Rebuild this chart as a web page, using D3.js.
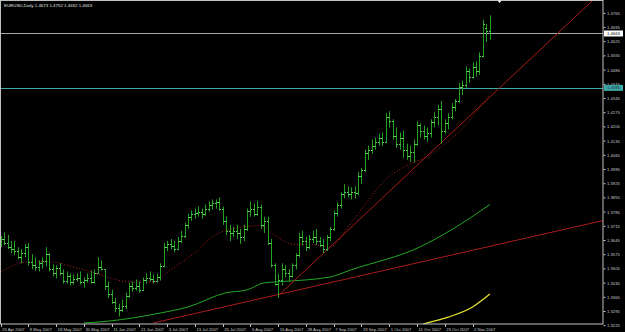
<!DOCTYPE html>
<html>
<head>
<meta charset="utf-8">
<script src="https://cdn.jsdelivr.net/npm/d3@7.9.0/dist/d3.min.js"></script>
<style>
  html, body { margin: 0; padding: 0; background: #000; }
  svg { display: block; }
  text { font-family: "Liberation Sans", Arial, sans-serif; }
</style>
</head>
<body>
<div id="chart"></div>
<script>
// EURUSD daily bars, 26 Apr 2007 .. 9 Nov 2007 (weekdays)
const startDate = '2007-04-26';
const endDate = '2007-11-09';

const opens = [
  1.3640, 1.3650, 1.3630, 1.3610, 1.3600, 1.3590, 1.3560, 1.3580, 1.3610, 1.3535,
  1.3520, 1.3510, 1.3530, 1.3540, 1.3575, 1.3500, 1.3480, 1.3505, 1.3480, 1.3445,
  1.3470, 1.3440, 1.3455, 1.3460, 1.3440, 1.3450, 1.3460, 1.3440, 1.3480, 1.3510,
  1.3500, 1.3420, 1.3380, 1.3340, 1.3310, 1.3300, 1.3320, 1.3370, 1.3420, 1.3410,
  1.3420, 1.3400, 1.3450, 1.3460, 1.3455, 1.3445, 1.3465, 1.3515, 1.3610, 1.3625,
  1.3615, 1.3600, 1.3640, 1.3665, 1.3720, 1.3760, 1.3775, 1.3780, 1.3785, 1.3775,
  1.3800, 1.3820, 1.3825, 1.3830, 1.3800, 1.3740, 1.3690, 1.3680, 1.3690, 1.3680,
  1.3660, 1.3700, 1.3790, 1.3800, 1.3775, 1.3810, 1.3720, 1.3740, 1.3630, 1.3520,
  1.3430, 1.3450, 1.3500, 1.3480, 1.3470, 1.3520, 1.3570, 1.3660, 1.3640, 1.3610,
  1.3650, 1.3660, 1.3640, 1.3620, 1.3600, 1.3660, 1.3700, 1.3780, 1.3820, 1.3870,
  1.3880, 1.3870, 1.3880, 1.3875, 1.3960, 1.3990, 1.4075, 1.4090, 1.4110, 1.4130,
  1.4150, 1.4130, 1.4250, 1.4230, 1.4160, 1.4120, 1.4150, 1.4090, 1.4060, 1.4080,
  1.4120, 1.4210, 1.4180, 1.4160, 1.4170, 1.4225, 1.4250, 1.4290, 1.4180, 1.4220,
  1.4250, 1.4300, 1.4330, 1.4400, 1.4410, 1.4480, 1.4450, 1.4500, 1.4480, 1.4550,
  1.4690, 1.4673
];
const highs = [
  1.3665, 1.3682, 1.3670, 1.3640, 1.3640, 1.3610, 1.3600, 1.3625, 1.3630, 1.3575,
  1.3560, 1.3545, 1.3560, 1.3610, 1.3580, 1.3525, 1.3520, 1.3530, 1.3500, 1.3490,
  1.3480, 1.3475, 1.3480, 1.3490, 1.3460, 1.3480, 1.3495, 1.3500, 1.3560, 1.3545,
  1.3500, 1.3440, 1.3400, 1.3360, 1.3330, 1.3350, 1.3385, 1.3435, 1.3440, 1.3450,
  1.3440, 1.3460, 1.3480, 1.3490, 1.3475, 1.3480, 1.3530, 1.3630, 1.3640, 1.3650,
  1.3640, 1.3660, 1.3690, 1.3730, 1.3775, 1.3790, 1.3800, 1.3810, 1.3800, 1.3820,
  1.3835, 1.3845, 1.3845, 1.3855, 1.3810, 1.3760, 1.3720, 1.3710, 1.3720, 1.3700,
  1.3720, 1.3800, 1.3835, 1.3825, 1.3840, 1.3820, 1.3760, 1.3760, 1.3650, 1.3530,
  1.3480, 1.3530, 1.3520, 1.3500, 1.3530, 1.3580, 1.3680, 1.3690, 1.3660, 1.3670,
  1.3690, 1.3700, 1.3660, 1.3650, 1.3670, 1.3710, 1.3790, 1.3830, 1.3880, 1.3920,
  1.3910, 1.3905, 1.3910, 1.3980, 1.4000, 1.4090, 1.4110, 1.4140, 1.4150, 1.4170,
  1.4175, 1.4270, 1.4280, 1.4240, 1.4200, 1.4175, 1.4185, 1.4120, 1.4110, 1.4140,
  1.4230, 1.4220, 1.4210, 1.4200, 1.4240, 1.4275, 1.4310, 1.4330, 1.4240, 1.4270,
  1.4320, 1.4340, 1.4420, 1.4430, 1.4500, 1.4490, 1.4520, 1.4525, 1.4570, 1.4730,
  1.4710, 1.4752
];
const lows = [
  1.3610, 1.3620, 1.3600, 1.3580, 1.3570, 1.3550, 1.3530, 1.3560, 1.3520, 1.3500,
  1.3495, 1.3490, 1.3505, 1.3515, 1.3490, 1.3465, 1.3455, 1.3470, 1.3430, 1.3430,
  1.3420, 1.3425, 1.3440, 1.3425, 1.3410, 1.3435, 1.3430, 1.3430, 1.3480, 1.3495,
  1.3400, 1.3360, 1.3330, 1.3290, 1.3268, 1.3290, 1.3305, 1.3360, 1.3390, 1.3395,
  1.3385, 1.3395, 1.3430, 1.3440, 1.3430, 1.3435, 1.3445, 1.3510, 1.3590, 1.3600,
  1.3585, 1.3595, 1.3630, 1.3655, 1.3700, 1.3740, 1.3750, 1.3760, 1.3750, 1.3765,
  1.3785, 1.3795, 1.3800, 1.3790, 1.3720, 1.3670, 1.3640, 1.3660, 1.3650, 1.3625,
  1.3640, 1.3690, 1.3760, 1.3760, 1.3765, 1.3700, 1.3680, 1.3620, 1.3510, 1.3420,
  1.3360, 1.3420, 1.3460, 1.3440, 1.3460, 1.3500, 1.3560, 1.3620, 1.3590, 1.3600,
  1.3630, 1.3620, 1.3610, 1.3580, 1.3590, 1.3640, 1.3690, 1.3760, 1.3800, 1.3850,
  1.3855, 1.3845, 1.3850, 1.3865, 1.3920, 1.3980, 1.4040, 1.4070, 1.4090, 1.4110,
  1.4110, 1.4125, 1.4200, 1.4140, 1.4100, 1.4090, 1.4050, 1.4040, 1.4030, 1.4027,
  1.4110, 1.4150, 1.4140, 1.4130, 1.4150, 1.4200, 1.4210, 1.4120, 1.4170, 1.4190,
  1.4240, 1.4280, 1.4320, 1.4360, 1.4395, 1.4420, 1.4440, 1.4450, 1.4460, 1.4545,
  1.4620, 1.4632
];
const closes = [
  1.3650, 1.3630, 1.3610, 1.3600, 1.3590, 1.3560, 1.3580, 1.3610, 1.3535, 1.3520,
  1.3510, 1.3530, 1.3540, 1.3575, 1.3500, 1.3480, 1.3505, 1.3480, 1.3445, 1.3470,
  1.3440, 1.3455, 1.3460, 1.3440, 1.3450, 1.3460, 1.3440, 1.3480, 1.3510, 1.3500,
  1.3420, 1.3380, 1.3340, 1.3310, 1.3300, 1.3320, 1.3370, 1.3420, 1.3410, 1.3420,
  1.3400, 1.3450, 1.3460, 1.3455, 1.3445, 1.3465, 1.3515, 1.3610, 1.3625, 1.3615,
  1.3600, 1.3640, 1.3665, 1.3720, 1.3760, 1.3775, 1.3780, 1.3785, 1.3775, 1.3800,
  1.3820, 1.3825, 1.3830, 1.3800, 1.3740, 1.3690, 1.3680, 1.3690, 1.3680, 1.3660,
  1.3700, 1.3790, 1.3800, 1.3775, 1.3810, 1.3720, 1.3740, 1.3630, 1.3520, 1.3430,
  1.3450, 1.3500, 1.3480, 1.3470, 1.3520, 1.3570, 1.3660, 1.3640, 1.3610, 1.3650,
  1.3660, 1.3640, 1.3620, 1.3600, 1.3660, 1.3700, 1.3780, 1.3820, 1.3870, 1.3880,
  1.3870, 1.3880, 1.3875, 1.3960, 1.3990, 1.4075, 1.4090, 1.4110, 1.4130, 1.4150,
  1.4130, 1.4250, 1.4230, 1.4160, 1.4120, 1.4150, 1.4090, 1.4060, 1.4080, 1.4120,
  1.4210, 1.4180, 1.4160, 1.4170, 1.4225, 1.4250, 1.4290, 1.4180, 1.4220, 1.4250,
  1.4300, 1.4330, 1.4400, 1.4410, 1.4480, 1.4450, 1.4500, 1.4480, 1.4550, 1.4710,
  1.4673, 1.4663
];

// indicator lines, [bar index, price]
const maFast = [
  [0, 1.3488], [8, 1.3537], [14, 1.3537], [24, 1.3498], [38, 1.3438], [44, 1.3438],
  [49, 1.3498], [57, 1.3597], [61, 1.3661], [66, 1.3696], [75, 1.3716], [78, 1.3681],
  [85, 1.3622], [90, 1.3622], [95, 1.3612], [101, 1.3730], [112, 1.3958], [116, 1.4003],
  [123, 1.4057], [128, 1.4117], [132, 1.4176], [141, 1.4364]
];
const maSlow = [
  [24, 1.3236], [31, 1.3245], [46, 1.3285], [54, 1.3315], [65, 1.3385], [71, 1.3399],
  [76, 1.3434], [80, 1.3439], [95, 1.3463], [101, 1.3498], [121, 1.3612], [130, 1.3696],
  [141, 1.3820]
];
const maLong = [
  [115, 1.3191], [123, 1.3236], [129, 1.3265], [136, 1.3315], [141, 1.3379]
];

// trend lines (rays) and horizontal levels
const steepTrend = [[80, 1.3370], [141, 1.4350]];
const shallowTrend = [[44, 1.3236], [111, 1.3497]];
const bidPrice = 1.4663;
const levelPrice = 1.4395;

const xTickDates = ['2007-04-26', '2007-05-08', '2007-05-18', '2007-05-30', '2007-06-11',
  '2007-06-21', '2007-07-03', '2007-07-13', '2007-07-25', '2007-08-06', '2007-08-16',
  '2007-08-28', '2007-09-07', '2007-09-19', '2007-10-01', '2007-10-11', '2007-10-23',
  '2007-11-02'];
const yTicks = [1.4765, 1.4695, 1.4625, 1.4555, 1.4485, 1.4415, 1.4345, 1.4275, 1.4205,
  1.4135, 1.4065, 1.3995, 1.3925, 1.3855, 1.3785, 1.3715, 1.3645, 1.3575, 1.3505, 1.3435,
  1.3365, 1.3295, 1.3225];

const title = 'EURUSD,Daily  1.4673 1.4752 1.4632 1.4663';

const width = 625;
const height = 332;
const plot = { left: 1, right: 603, top: 1, bottom: 324 };

const parse = d3.utcParse('%Y-%m-%d');
const fmtKey = d3.utcFormat('%Y-%m-%d');
const fmtLabel = d3.utcFormat('%-d %b %Y');

const dates = d3.utcDay.range(parse(startDate), d3.utcDay.offset(parse(endDate), 1))
  .filter(d => d.getUTCDay() !== 0 && d.getUTCDay() !== 6);
const dateIndex = new Map(dates.map((d, i) => [fmtKey(d), i]));

const bars = dates.map((d, i) => ({
  i, date: d, open: opens[i], high: highs[i], low: lows[i], close: closes[i]
}));

const xScale = d3.scaleLinear().domain([0, bars.length - 1]).range([0.6, 0.6 + 3.47 * (bars.length - 1)]);
const yScale = d3.scaleLinear().domain([1.3225, 1.4765]).range([325.2, 12.8]);

const px = v => Math.round(v) + 0.5;

const svg = d3.select('#chart').append('svg')
  .attr('width', width)
  .attr('height', height)
  .attr('viewBox', `0 0 ${width} ${height}`);

svg.append('rect').attr('width', width).attr('height', height).attr('fill', '#000');

svg.append('clipPath').attr('id', 'clip')
  .append('rect')
  .attr('x', plot.left).attr('y', plot.top)
  .attr('width', plot.right - plot.left).attr('height', plot.bottom - plot.top);

const g = svg.append('g').attr('clip-path', 'url(#clip)');

// horizontal levels
g.append('line')
  .attr('x1', plot.left).attr('x2', plot.right)
  .attr('y1', px(yScale(bidPrice))).attr('y2', px(yScale(bidPrice)))
  .attr('stroke', '#a8a8a8').attr('stroke-width', 1);
g.append('line')
  .attr('x1', plot.left).attr('x2', plot.right)
  .attr('y1', px(yScale(levelPrice))).attr('y2', px(yScale(levelPrice)))
  .attr('stroke', '#3fa9a9').attr('stroke-width', 1);

const line = d3.line()
  .x(d => xScale(d[0]))
  .y(d => yScale(d[1]))
  .curve(d3.curveMonotoneX);

// moving averages
g.append('path').datum(maSlow)
  .attr('d', line).attr('fill', 'none')
  .attr('stroke', '#22a822').attr('stroke-width', 1);
g.append('path').datum(maLong)
  .attr('d', line).attr('fill', 'none')
  .attr('stroke', '#e8e030').attr('stroke-width', 1.3);
g.append('path').datum(maFast)
  .attr('d', line).attr('fill', 'none')
  .attr('stroke', '#b42020').attr('stroke-width', 1)
  .attr('stroke-dasharray', '1,2');

// trend rays, extended to the right edge
function ray(pts) {
  const [[i0, p0], [i1, p1]] = pts;
  const slope = (p1 - p0) / (i1 - i0);
  const iEnd = xScale.invert(plot.right + 5);
  return [[i0, p0], [iEnd, p0 + slope * (iEnd - i0)]];
}
const straight = d3.line().x(d => xScale(d[0])).y(d => yScale(d[1]));
g.append('path').datum(ray(steepTrend))
  .attr('d', straight).attr('fill', 'none')
  .attr('stroke', '#a81c1c').attr('stroke-width', 1);
g.append('path').datum(ray(shallowTrend))
  .attr('d', straight).attr('fill', 'none')
  .attr('stroke', '#a81c1c').attr('stroke-width', 1);

// OHLC bars
const barG = g.append('g').attr('stroke', '#24a024').attr('stroke-width', 1);
const bar = barG.selectAll('g').data(bars).join('g');
bar.append('line')
  .attr('x1', d => px(xScale(d.i))).attr('x2', d => px(xScale(d.i)))
  .attr('y1', d => yScale(d.high)).attr('y2', d => yScale(d.low));
bar.append('line')
  .attr('x1', d => px(xScale(d.i)) - 1.5).attr('x2', d => px(xScale(d.i)))
  .attr('y1', d => px(yScale(d.open))).attr('y2', d => px(yScale(d.open)))
  .attr('stroke', '#5ccf5c');
bar.append('line')
  .attr('x1', d => px(xScale(d.i))).attr('x2', d => px(xScale(d.i)) + 1.5)
  .attr('y1', d => px(yScale(d.close))).attr('y2', d => px(yScale(d.close)))
  .attr('stroke', '#5ccf5c');

// frame
svg.append('rect')
  .attr('x', plot.left - 0.5).attr('y', plot.top - 0.5)
  .attr('width', plot.right - plot.left + 0.5).attr('height', plot.bottom - plot.top + 0.5)
  .attr('fill', 'none').attr('stroke', '#c0c0c0').attr('stroke-width', 1);

// chart shift marker
const shiftX = xScale(bars.length + 1.8);
svg.append('path')
  .attr('d', `M${shiftX - 2},0.5 L${shiftX + 2},0.5 L${shiftX},3 Z`)
  .attr('fill', '#ffffff');

// right price axis
const yAxis = d3.axisRight(yScale)
  .tickValues(yTicks)
  .tickFormat(d3.format('.4f'))
  .tickSize(2)
  .tickPadding(1.5);
const yAxisG = svg.append('g')
  .attr('transform', `translate(${plot.right + 0.5},0)`)
  .call(yAxis);
yAxisG.select('.domain').remove();
yAxisG.selectAll('line').attr('stroke', '#c0c0c0');
yAxisG.selectAll('text')
  .attr('fill', '#c8c8c8')
  .attr('font-size', 4.2)
  .attr('dy', '0.35em');

// price boxes
function priceBox(price, fill, textFill) {
  const yy = yScale(price);
  const box = svg.append('g');
  box.append('rect')
    .attr('x', plot.right + 1).attr('y', yy - 3)
    .attr('width', 19).attr('height', 6)
    .attr('fill', fill);
  box.append('text')
    .attr('x', plot.right + 4).attr('y', yy)
    .attr('dy', '0.35em')
    .attr('font-size', 4.2)
    .attr('fill', textFill)
    .text(d3.format('.4f')(price));
}
priceBox(levelPrice, '#3fa9a9', '#0a2a2a');
priceBox(bidPrice, '#ffffff', '#000000');

// bottom time axis
const xTicks = xTickDates.map(s => ({ i: dateIndex.get(s), date: parse(s) }));
const xAxisG = svg.append('g');
xAxisG.selectAll('line').data(xTicks).join('line')
  .attr('x1', d => px(xScale(d.i))).attr('x2', d => px(xScale(d.i)))
  .attr('y1', plot.bottom).attr('y2', plot.bottom + 3)
  .attr('stroke', '#c0c0c0');
xAxisG.selectAll('text').data(xTicks).join('text')
  .attr('x', d => xScale(d.i) + 1.5)
  .attr('y', plot.bottom + 6.5)
  .attr('font-size', 4.2)
  .attr('fill', '#c8c8c8')
  .text(d => fmtLabel(d.date));

// title
svg.append('text')
  .attr('x', 4).attr('y', 7)
  .attr('font-size', 4.4)
  .attr('fill', '#e0e0e0')
  .text(title);
</script>
</body>
</html>
